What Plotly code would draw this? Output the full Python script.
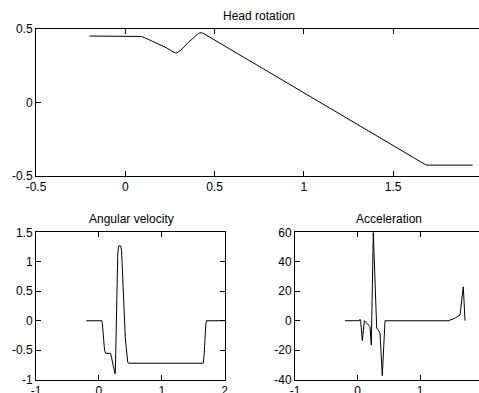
import plotly.graph_objects as go

# ---------------- data ----------------
head_t = [-0.2, 0.07, 0.09, 0.11, 0.19, 0.23, 0.26, 0.28, 0.29, 0.31, 0.35, 0.39, 0.41, 0.425, 0.44, 1.684, 1.70, 1.945]
head_y = [0.452, 0.452, 0.449, 0.440, 0.396, 0.372, 0.350, 0.337, 0.338, 0.355, 0.405, 0.450, 0.470, 0.475, 0.468, -0.427, -0.428, -0.428]

vel_t = [-0.2, 0.045, 0.055, 0.09, 0.108, 0.187, 0.20, 0.256, 0.262, 0.275, 0.29, 0.30, 0.315, 0.345, 0.36, 0.38, 0.42, 0.458, 0.47, 1.66, 1.675, 1.70, 1.71, 1.98]
vel_y = [0, 0, -0.05, -0.5, -0.553, -0.553, -0.62, -0.90, -0.85, -0.2, 0.8, 1.15, 1.27, 1.27, 1.2, 0.6, -0.3, -0.70, -0.72, -0.72, -0.55, -0.05, 0, 0]

acc_t = [-0.2, 0.03, 0.04, 0.05, 0.077, 0.11, 0.2, 0.221, 0.253, 0.307, 0.333, 0.36, 0.397, 0.44, 1.45, 1.55, 1.64, 1.693, 1.72]
acc_y = [0, 0, 1, 0, -13.5, 0, -4, -16.5, 60, -5, -6.3, -8.5, -37.3, 0, 0, 1.5, 3.9, 23, 0]

titles = ["Head rotation", "Angular velocity", "Acceleration"]

top_xticks = [-0.5, 0, 0.5, 1, 1.5]
top_xtext = ["-0.5", "0", "0.5", "1", "1.5"]
top_yticks = [-0.5, 0, 0.5]
top_ytext = ["-0.5", "0", "0.5"]

vel_xticks = [-1, 0, 1, 2]
vel_xtext = ["-1", "0", "1", "2"]
vel_yticks = [-1, -0.5, 0, 0.5, 1, 1.5]
vel_ytext = ["-1", "-0.5", "0", "0.5", "1", "1.5"]

acc_xticks = [-1, 0, 1]
acc_xtext = ["-1", "0", "1"]
acc_yticks = [-40, -20, 0, 20, 40, 60]
acc_ytext = ["-40", "-20", "0", "20", "40", "60"]

# ---------------- figure ----------------
W, H = 479, 393
FONT = dict(family="Liberation Sans, Arial, sans-serif", size=12, color="black")

fig = go.Figure()
line = dict(color="black", width=1)
fig.add_trace(go.Scatter(x=head_t, y=head_y, mode="lines", line=line, xaxis="x", yaxis="y"))
fig.add_trace(go.Scatter(x=vel_t, y=vel_y, mode="lines", line=line, xaxis="x2", yaxis="y2"))
fig.add_trace(go.Scatter(x=acc_t, y=acc_y, mode="lines", line=line, xaxis="x3", yaxis="y3"))

def px(x):
    return x / W

def py(y):
    return 1 - y / H

common = dict(showgrid=False, zeroline=False, showline=True, linecolor="black", linewidth=1,
              ticks="inside", ticklen=5, tickcolor="black", tickwidth=1, automargin=False,
              tickfont=FONT, tickmode="array", fixedrange=True)

fig.update_layout(
    width=W, height=H, autosize=False,
    margin=dict(l=0, r=0, t=0, b=0, pad=0, autoexpand=False),
    paper_bgcolor="white", plot_bgcolor="white",
    showlegend=False,
    font=FONT,
    xaxis=dict(domain=[px(36), 1], range=[-0.5, -0.5 + (W - 36) / 178.6],
               tickvals=top_xticks, ticktext=top_xtext, mirror="ticks", anchor="y", **common),
    yaxis=dict(domain=[py(175.7), py(29)], range=[-0.5, 0.5],
               tickvals=top_yticks, ticktext=top_ytext, mirror=False, anchor="x",
               ticklabelstandoff=0, **common),
    xaxis2=dict(domain=[px(36), px(224.7)], range=[-1, 2],
                tickvals=vel_xticks, ticktext=vel_xtext, mirror="ticks", anchor="y2", **common),
    yaxis2=dict(domain=[py(379.7), py(232.3)], range=[-1, 1.5],
                tickvals=vel_yticks, ticktext=vel_ytext, mirror="ticks", anchor="x2",
                ticklabelstandoff=0, **common),
    xaxis3=dict(domain=[px(295), 1], range=[-1, -1 + (W - 295) / 62.5],
                tickvals=acc_xticks, ticktext=acc_xtext, mirror="ticks", anchor="y3", **common),
    yaxis3=dict(domain=[py(379.7), py(232.3)], range=[-40, 60],
                tickvals=acc_yticks, ticktext=acc_ytext, mirror=False, anchor="x3",
                ticklabelstandoff=0, **common),
    annotations=[
        dict(text=titles[0], x=px(259.3), y=py(16), xref="paper", yref="paper",
             xanchor="center", yanchor="middle", showarrow=False, font=FONT),
        dict(text=titles[1], x=px(131.5), y=py(218.7), xref="paper", yref="paper",
             xanchor="center", yanchor="middle", showarrow=False, font=FONT),
        dict(text=titles[2], x=px(389.3), y=py(218.7), xref="paper", yref="paper",
             xanchor="center", yanchor="middle", showarrow=False, font=FONT),
    ],
)

fig.write_html("out.html", config={"displayModeBar": False, "responsive": False},
               post_script="document.body.style.margin='0';document.body.style.overflow='hidden';")
